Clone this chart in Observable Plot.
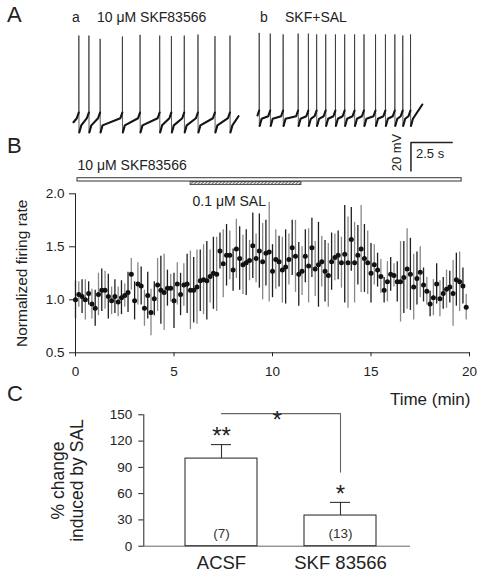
<!DOCTYPE html>
<html><head><meta charset="utf-8">
<script src="https://cdn.jsdelivr.net/npm/d3@7"></script>
<script src="https://cdn.jsdelivr.net/npm/@observablehq/plot@0.6"></script>
<style>
html,body{margin:0;padding:0;background:#fff;}
#fig{position:relative;width:481px;height:579px;overflow:hidden;font-family:"Liberation Sans",Arial,sans-serif;color:#222;}
#fig svg{position:absolute;}
.lbl{position:absolute;white-space:nowrap;line-height:1;}
.big{font-size:22px;}
.sm{font-size:14px;}
</style>
</head><body>
<div id="fig">
  <div class="lbl big" style="left:7px;top:3.5px">A</div>
  <div class="lbl big" style="left:7px;top:135px">B</div>
  <div class="lbl big" style="left:7px;top:382.7px">C</div>
  <div class="lbl sm" style="left:72px;top:9.9px">a</div>
  <div class="lbl sm" style="left:97px;top:9.9px">10 μM SKF83566</div>
  <div class="lbl sm" style="left:260px;top:9.9px">b</div>
  <div class="lbl sm" style="left:285px;top:9.9px">SKF+SAL</div>
</div>
<script>
// ---------------- DATA ----------------
// Panel A: spike times (s) and peak potentials (mV)
const spikeTimesA = [0.32, 0.93, 1.61, 2.96, 4.03, 5.22, 5.93, 6.71, 7.54, 8.57, 9.48];
const spikePeaksA = [5.2, 5.2, 2.9, 4.5, 5.7, 5.2, 4.8, 5.2, 5.9, 4.8, 5.2];
const levelsA = {start: -55.4, foot: -48.6, trough: -62.6, end: -51.2, duration: 10.0};

const spikeTimesB = [0.10, 0.77, 1.55, 2.46, 3.08, 3.58, 4.13, 4.72, 5.28, 5.88, 6.45, 7.15, 7.75, 8.32, 8.80, 9.27];
const spikePeaksB = [7.1, 6.6, 6.0, 6.6, 6.6, 6.0, 6.0, 6.0, 6.0, 6.0, 6.0, 6.0, 6.0, 6.0, 5.2, 6.0];
const levelsB = {start: -50.7, foot: -47.2, trough: -58.0, end: -43.0, duration: 9.99};

const scaleBarSeconds = 2.5;
const scaleBarMV = 20;

// Panel B: normalized firing rate in 10-s bins (mean and SEM)
const binMinutes = 10 / 60;
const rateMean = [
  1.00,1.05,1.03,1.00,1.06,0.96,0.92,1.05,1.09,1.09,
  1.03,0.99,1.03,0.98,1.02,1.04,1.07,1.24,0.99,1.15,
  1.13,0.92,1.04,0.88,1.01,1.14,1.09,1.07,1.11,1.11,
  0.99,1.15,1.05,1.14,1.15,1.09,1.09,1.12,1.18,1.19,
  1.18,1.22,1.25,1.24,1.46,1.34,1.42,1.42,1.28,1.48,
  1.39,1.33,1.35,1.37,1.51,1.39,1.46,1.36,1.44,1.45,
  1.27,1.38,1.36,1.28,1.31,1.38,1.49,1.41,1.24,1.27,
  1.41,1.32,1.49,1.29,1.33,1.36,1.27,1.23,1.36,1.40,
  1.42,1.35,1.43,1.35,1.57,1.35,1.42,1.48,1.39,1.35,
  1.25,1.33,1.28,1.22,1.09,1.17,1.24,1.23,1.17,1.17,
  1.21,1.29,1.24,1.12,1.20,1.26,1.14,1.08,0.96,1.02,
  1.15,1.01,1.06,1.10,1.12,1.06,1.19,1.17,1.13,0.93
];
const rateSem = [
  0.18,0.12,0.16,0.19,0.11,0.14,0.17,0.20,0.20,0.18,
  0.21,0.13,0.16,0.14,0.16,0.11,0.19,0.15,0.18,0.20,
  0.18,0.17,0.22,0.22,0.16,0.25,0.32,0.36,0.17,0.13,
  0.26,0.20,0.20,0.20,0.28,0.37,0.31,0.35,0.29,0.33,
  0.37,0.25,0.34,0.35,0.17,0.32,0.29,0.23,0.20,0.28,
  0.30,0.28,0.31,0.19,0.31,0.23,0.35,0.36,0.31,0.47,
  0.25,0.28,0.24,0.31,0.35,0.24,0.26,0.34,0.30,0.23,
  0.25,0.35,0.28,0.26,0.40,0.24,0.29,0.30,0.27,0.22,
  0.23,0.24,0.46,0.43,0.30,0.38,0.28,0.41,0.32,0.30,
  0.28,0.19,0.16,0.16,0.12,0.19,0.16,0.11,0.19,0.38,
  0.34,0.38,0.34,0.31,0.25,0.24,0.16,0.13,0.12,0.17,
  0.19,0.17,0.15,0.18,0.15,0.31,0.25,0.28,0.17,0.12
];
const xTicksB = [0, 5, 10, 15, 20];
const yTicksB = [0.5, 1.0, 1.5, 2.0];
const skfApplication = [{label: "10 μM SKF83566", start: 0.1, end: 19.6}];
const salApplication = [{label: "0.1 μM SAL", start: 5.84, end: 11.47}];

// Panel C
const groupsC = ["ACSF", "SKF 83566"];
const changeC = [100, 35];
const changeErrC = [16, 15];
const nCellsC = ["(7)", "(13)"];
const starsC = ["**", "*"];
const yTicksC = [0, 30, 60, 90, 120, 150];

// ---------------- BUILD ----------------
const FONT = '"Liberation Sans", Arial, sans-serif';
const fig = document.getElementById("fig");
function place(svg, left, top) {
  svg.style.position = "absolute";
  svg.style.left = left + "px";
  svg.style.top = top + "px";
  svg.style.maxWidth = "none";
  fig.appendChild(svg);
}

function buildTrace(spikes, peaks, lv) {
  const all = [], base = [];
  let seg = 0;
  const push = (t, v) => { all.push({t, v}); base.push({t, v, seg}); };
  push(0, lv.start);
  spikes.forEach((s, k) => {
    const prevEnd = k ? spikes[k - 1] + 0.15 : 0;
    if (s - 0.12 > prevEnd + 0.02) push(s - 0.12, lv.foot - 4);
    push(s, lv.foot);
    all.push({t: s + 0.004, v: peaks[k]});
    all.push({t: s + 0.012, v: lv.trough});
    seg++;
    push(s + 0.03, lv.trough);
    const next = k + 1 < spikes.length ? spikes[k + 1] : lv.duration;
    if (s + 0.15 < next - 0.1) push(s + 0.15, lv.trough + 5);
  });
  push(lv.duration, lv.end);
  return {all, base};
}

const PX_PER_S = 16.5;
const yDomA = [-96.15, 29.72];
function tracePlot(tr, width, extra = []) {
  return Plot.plot({
    width, height: 180, margin: 0,
    style: {fontFamily: FONT, fontSize: "13px", color: "#222", background: "none", overflow: "visible"},
    x: {domain: [0, width / PX_PER_S], axis: null},
    y: {domain: yDomA, axis: null},
    marks: [
      Plot.line(tr.all, {x: "t", y: "v", stroke: "#333", strokeWidth: 0.8}),
      Plot.line(tr.base, {x: "t", y: "v", z: "seg", stroke: "#151515", strokeWidth: 2.1, strokeLinejoin: "round"}),
      ...extra
    ]
  });
}

const trA = buildTrace(spikeTimesA, spikePeaksA, levelsA);
const trB = buildTrace(spikeTimesB, spikePeaksB, levelsB);
place(tracePlot(trA, 170), 73, 0);

const sbT = 9.30, sbV = -69.58;
const scaleBar = [
  {t: sbT + scaleBarSeconds, v: sbV},
  {t: sbT, v: sbV},
  {t: sbT, v: sbV - scaleBarMV}
];
place(tracePlot(trB, 224, [
  Plot.line(scaleBar, {x: "t", y: "v", stroke: "#222", strokeWidth: 1.5}),
  Plot.text([scaleBarSeconds + " s"], {x: sbT, y: sbV, dx: 5, dy: 11, textAnchor: "start", fontSize: 13}),
  Plot.text([scaleBarMV + " mV"], {x: sbT, y: sbV, dx: -14.5, dy: 10, rotate: -90, textAnchor: "middle", fontSize: 13})
]), 257, 0);

// Panel B
const seriesB = rateMean.map((v, i) => ({t: i * binMinutes, v, e: rateSem[i], i}));
const plotB = Plot.plot({
  width: 481, height: 280,
  marginLeft: 75, marginRight: 12, marginTop: 63.3, marginBottom: 57.7,
  style: {fontFamily: FONT, fontSize: "13.5px", color: "#222", background: "none", overflow: "visible"},
  x: {domain: [0, 20], ticks: xTicksB, tickSize: 4, tickPadding: 10, line: true, label: null},
  y: {domain: [0.5, 2.0], ticks: yTicksB, tickFormat: d3.format(".1f"), tickSize: 6, tickPadding: 5, line: true, label: null},
  marks: [
    Plot.ruleX(seriesB, {x: "t", y1: d => d.v - d.e, y2: d => d.v + d.e,
      stroke: d => d.i % 2 ? "#888" : "#1e1e1e", strokeWidth: 1.3}),
    Plot.dot(seriesB, {x: "t", y: "v", r: 2.5, fill: "#111", stroke: "none"}),
    Plot.rect(skfApplication, {x1: "start", x2: "end", y1: 2.116, y2: 2.147, fill: "white", stroke: "#333"}),
    Plot.rect(salApplication, {x1: "start", x2: "end", y1: 2.082, y2: 2.110, fill: "url(#hatch)", stroke: "#333", strokeWidth: 0.8}),
    Plot.text(skfApplication, {x: "start", y: 2.147, dy: -13, text: "label", textAnchor: "start", fontSize: 14}),
    Plot.text(salApplication, {x: "start", y: 2.082, dy: 16, dx: 2, text: "label", textAnchor: "start", fontSize: 14}),
    Plot.text(["Normalized firing rate"], {frameAnchor: "left", dx: -53, rotate: -90, textAnchor: "middle", fontSize: 15.5}),
    Plot.text(["Time (min)"], {frameAnchor: "bottom-right", dx: 1, dy: 52, textAnchor: "end", fontSize: 17})
  ]
});
d3.select(plotB).insert("defs", ":first-child").html(
  '<pattern id="hatch" patternUnits="userSpaceOnUse" width="3.5" height="3.5">' +
  '<path d="M-1,1 l2,-2 M0,3.5 l3.5,-3.5 M2.5,4.5 l2,-2" stroke="#333" stroke-width="0.9"/></pattern>');
place(plotB, 0, 130);

// Panel C
const dataC = groupsC.map((g, i) => ({g, v: changeC[i], e: changeErrC[i], n: nCellsC[i], s: starsC[i]}));
const bracket = [
  {g: groupsC[0], y: 151.3},
  {g: groupsC[1], y: 151.3},
  {g: groupsC[1], y: 84.6}
];
const plotC = Plot.plot({
  width: 481, height: 179,
  marginLeft: 143.3, marginRight: 71, marginTop: 14.3, marginBottom: 33.3,
  style: {fontFamily: FONT, fontSize: "13.5px", color: "#222", background: "none", overflow: "visible"},
  x: {domain: groupsC, paddingInner: 0.396, paddingOuter: 0.314, align: 0.55, axis: null},
  y: {domain: [0, 150], ticks: yTicksC, tickSize: 5, tickPadding: 6.5, line: true, label: null},
  marks: [
    Plot.ruleY([0], {stroke: "#666"}),
    Plot.barY(dataC, {x: "g", y: "v", fill: "white", stroke: "#333", strokeWidth: 1.1}),
    Plot.ruleX(dataC, {x: "g", y1: "v", y2: d => d.v + d.e, stroke: "#333", strokeWidth: 1.1}),
    Plot.tickY(dataC, {x: "g", y: d => d.v + d.e, insetLeft: 26, insetRight: 26, stroke: "#333", strokeWidth: 1.1}),
    Plot.text(dataC, {x: "g", y: d => d.v + d.e, dy: -8, text: "s", fontSize: 24}),
    Plot.text(dataC, {x: "g", y: 0, dy: -12.7, text: "n", fontSize: 13.5, fill: "#333"}),
    Plot.line(bracket, {x: "g", y: "y", stroke: "#666", strokeWidth: 1.1}),
    Plot.text(["*"], {frameAnchor: "top", dy: -4.3, fontSize: 24}),
    Plot.text(groupsC, {x: d => d, frameAnchor: "bottom", dy: 23, fontSize: 18.5}),
    Plot.text(["% change\ninduced by SAL"], {frameAnchor: "left", dx: -76.8, rotate: -90, textAnchor: "middle", fontSize: 17.5, lineHeight: 1.09})
  ]
});
place(plotC, 0, 400);
</script>
</body></html>
